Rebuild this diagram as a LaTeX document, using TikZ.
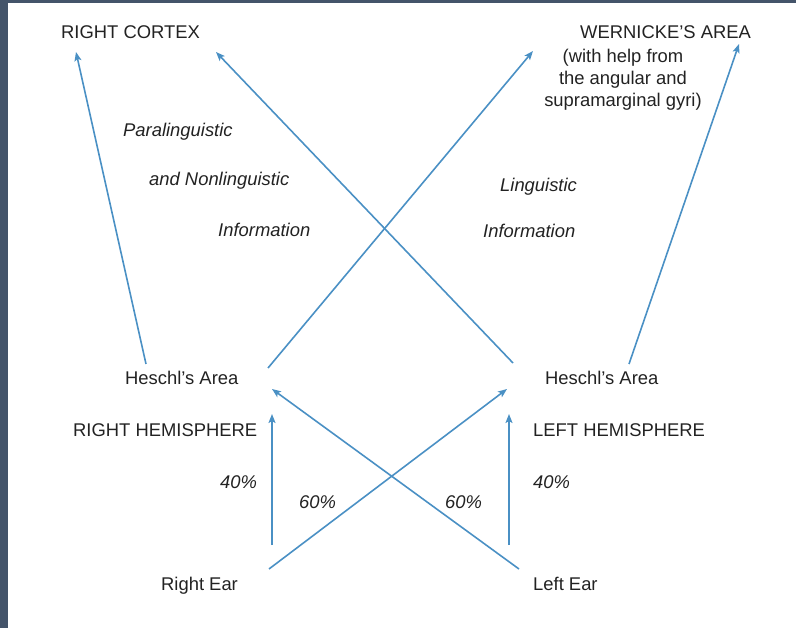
\documentclass[tikz,border=0pt]{standalone}
\usepackage{fontspec}
\setmainfont{Liberation Sans}
\usetikzlibrary{arrows.meta}

\definecolor{pathblue}{RGB}{74,144,196}
\definecolor{framegray}{RGB}{68,84,106}
\definecolor{labelgray}{RGB}{34,34,34}

\begin{document}
\begin{tikzpicture}[x=1pt,y=-1pt,
    route/.style={draw=pathblue,line width=1.6pt,-{Stealth[length=9pt,width=7pt,inset=2pt]}}]

      \useasboundingbox (0,0) rectangle (796,628);
      \fill[framegray] (0,0) rectangle (8,628);
      \fill[framegray] (0,0) rectangle (796,3);

      \begin{scope}[every node/.style={inner sep=0pt, text=labelgray, anchor=base west,
                    font=\fontsize{18.4}{22}\selectfont}]
        \node (rcortex)  at (61,39)   {RIGHT CORTEX};
        \node (wernicke) at (580,39)  {WERNICKE’S AREA};
        \node[anchor=center, align=center] (gyri) at (623,79.5)
          {(with help from\\the angular and\\supramarginal gyri)};
        \node (lheschl)  at (125,385) {Heschl’s Area};
        \node (rheschl)  at (545,385) {Heschl’s Area};
        \node (rhemi)    at (73,437)  {RIGHT HEMISPHERE};
        \node (lhemi)    at (533,437) {LEFT HEMISPHERE};
        \node (rear)     at (161,590) {Right Ear};
        \node (lear)     at (533,590) {Left Ear};
      \end{scope}

      \begin{scope}[every node/.style={inner sep=0pt, text=labelgray, anchor=base west,
                    font=\fontsize{18.4}{22}\selectfont\itshape}]
        \node (para)    at (123,137) {Paralinguistic};
        \node (nonling) at (149,186) {and Nonlinguistic};
        \node (info1)   at (218,237) {Information};
        \node (ling)    at (500,192) {Linguistic};
        \node (info2)   at (483,238) {Information};
        \node (rr)      at (220,489) {40\%};
        \node (rl)      at (299,508) {60\%};
        \node (lr)      at (445,508) {60\%};
        \node (ll)      at (533,489) {40\%};
      \end{scope}

      % ends of the routes
      \coordinate (lh-up)    at (146,364);
      \coordinate (lh-cross) at (268,368);
      \coordinate (lh-in)    at (272,389);
      \coordinate (lh-low)   at (272,414);
      \coordinate (rh-up)    at (629,364);
      \coordinate (rh-cross) at (513,363);
      \coordinate (rh-in)    at (507,389);
      \coordinate (rh-low)   at (509,414);
      \coordinate (rc-a)     at (76,52);
      \coordinate (rc-b)     at (216,52);
      \coordinate (wa-a)     at (533,51);
      \coordinate (wa-b)     at (739,44);
      \coordinate (re-up)    at (272,545);
      \coordinate (re-cross) at (269,569);
      \coordinate (le-up)    at (509,545);
      \coordinate (le-cross) at (519,569);

      \path[route] (lh-up)    -- (rc-a);
      \path[route] (rh-cross) -- (rc-b);
      \path[route] (lh-cross) -- (wa-a);
      \path[route] (rh-up)    -- (wa-b);
      \path[route] (re-up)    -- (lh-low);
      \path[route] (re-cross) -- (rh-in);
      \path[route] (le-cross) -- (lh-in);
      \path[route] (le-up)    -- (rh-low);

    \end{tikzpicture}
\end{document}
